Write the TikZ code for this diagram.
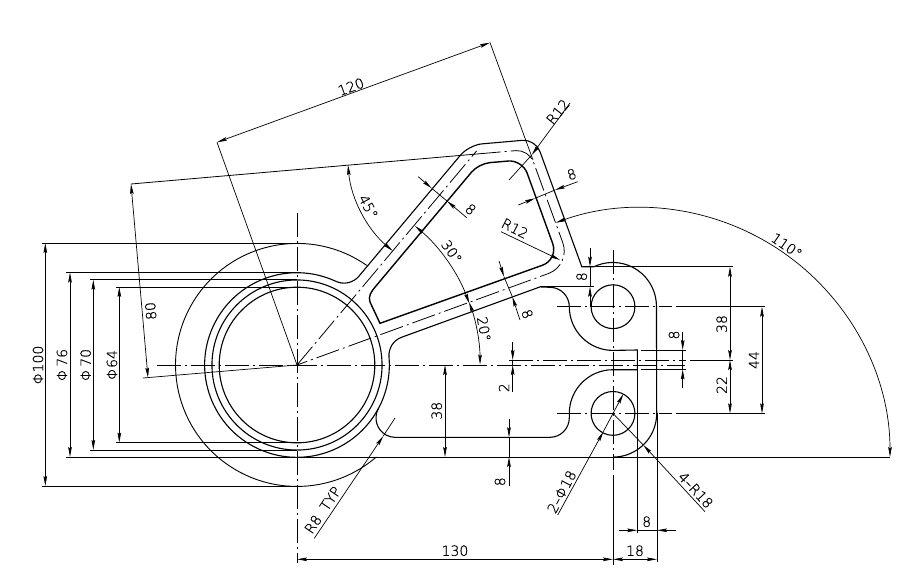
\documentclass[tikz,border=0pt]{standalone}
\usepackage{fontspec}
\usetikzlibrary{arrows.meta}
\newfontfamily\cadfont[FakeBold=0.6]{DejaVu Sans ExtraLight}
\tikzset{
    outline/.style = {line width=1.1pt},
    pocket/.style = {line width=1.4pt},
    dimline/.style = {line width=0.7pt, >={Stealth[length=10pt,width=3.6pt,inset=1.5pt]}},
    axisline/.style = {line width=0.8pt, dash pattern=on 24pt off 4pt on 2pt off 4pt},
    dimtext/.style = {font=\cadfont\fontsize{14}{14}\selectfont, inner sep=0pt}
}

\begin{document}
\begin{tikzpicture}[x=1pt, y=-1pt]
    \useasboundingbox (0,0) rectangle (916,587);
    \coordinate (O) at (297,365);
    \coordinate (upperhole) at (613,306.7);
    \coordinate (lowerhole) at (613,413.4);
    \coordinate (armA) at (473.8,154.3);
    \coordinate (armB) at (528.9,149.5);
    \coordinate (armC) at (571,265.3);

    % rings and holes
    \draw[line width=0.9pt] (366.7,265.4) arc (-55:-310.8:121.5);
    \draw[outline] (O) circle (85.05);
    \draw[outline] (O) circle (77.8);
    \draw[outline] (upperhole) circle (21.9);
    \draw[outline] (lowerhole) circle (21.9);

    % outer contour
    \draw[outline] (389,357.1) arc (-4.9:28.3:92.3) arc (208.3:90:19.44) -- (549.9,437.3)
        arc (90:0:19.4) -- (569.3,413.4) arc (180:270:43.7) -- (637.3,369.7) -- (637.3,350)
        -- (613,350.4) arc (90:180:43.7) arc (0:-90:19.4) -- (540,286.9) -- (401.7,337.2)
        arc (250:175.3:19.44);
    \draw[outline] (335.8,281.3) arc (-65.1:-331.7:92.3);
    \draw[outline] (335.8,281.3) arc (115:40:19.44) [rounded corners=13pt] -- (469,145)
        -- (535.5,139.2) [sharp corners] -- (581.8,266.7) -- (594,266.7)
        arc (244.6:360:43.7) -- (656.7,413.4) arc (0:90:43.7);

    % pocket
    \draw[pocket] (380,323.3) -- (370,302) .. controls (368,296) and (371,292) .. (375.8,286.2)
        [rounded corners=11pt] -- (478.7,163.6) [rounded corners=14pt] -- (522.3,159.8)
        [rounded corners=17pt] -- (558.5,259.5) [sharp corners] -- cycle;

    % centre lines
    \draw[axisline] (157,365) -- (685,365);
    \draw[axisline] (297,213) -- (297,563);
    \draw[axisline] (613,250) -- (613,470);
    \draw[axisline] (509,360) -- (686,360);
    \draw[axisline] (557,306.7) -- (672,306.7);
    \draw[axisline] (557,413.4) -- (672,413.4);
    \draw[axisline] (O) -- (476.7,150.8);
    \draw[axisline, rounded corners=13pt] (476.7,154) -- (armB) [rounded corners=24pt] -- (armC)
        [sharp corners] -- (O);
    \fill (upperhole) circle (1);

    % extension lines
    \draw[dimline] (42,243) -- (297,243);
    \draw[dimline] (42,486) -- (297,486);
    \draw[dimline] (66,272.5) -- (297,272.5);
    \draw[line width=1pt] (66,457) -- (890,457);
    \draw[dimline] (90,279.7) -- (297,279.7);
    \draw[dimline] (90,449.9) -- (297,449.9);
    \draw[dimline] (116,286.9) -- (297,286.9);
    \draw[dimline] (116,442.6) -- (297,442.6);
    \draw[line width=0.8pt] (131,184) -- (476.7,154);
    \draw[dimline] (143,378) -- (O);
    \draw[dimline] (217,142.3) -- (O);
    \draw[dimline] (490,42.6) -- (533,160);
    \draw[dimline] (540,286.7) -- (594,286.7);
    \draw[dimline] (596,266.7) -- (733,266.7);
    \draw[dimline] (676,306.7) -- (765,306.7);
    \draw[dimline] (676,413.4) -- (765,413.4);
    \draw[dimline] (690,360) -- (733,360);
    \draw[dimline] (641,350) -- (686,350);
    \draw[dimline] (641,369.4) -- (686,369.4);
    \draw[dimline] (613,475) -- (613,565);
    \draw[dimline] (637.3,369.7) -- (637.3,533);
    \draw[dimline] (657,413.4) -- (657,562);

    % diameters
    \draw[dimline, <->] (45.3,243) -- (45.3,486);
    \draw[dimline, <->] (70,272.5) -- (70,457);
    \draw[dimline, <->] (93.3,279.7) -- (93.3,449.9);
    \draw[dimline, <->] (119.3,286.9) -- (119.3,442.6);
    \node[dimtext, rotate=90] (diaouter) at (38,365) {Φ100};
    \node[dimtext, rotate=90] (diarib) at (62,365) {Φ\,76};
    \node[dimtext, rotate=90] (diamid) at (85.7,365) {Φ\,70};
    \node[dimtext, rotate=90] (diabore) at (112,365) {Φ64};

    % arm dimensions
    \draw[dimline, <->] (131,184) -- (148,377.7);
    \draw[dimline, <->] (217,142.3) -- (490,42.6);
    \node[dimtext, rotate=95] (armheight) at (150.7,311) {80};
    \node[dimtext, rotate=20] (armlength) at (351,86.7) {120};
    \draw[dimline, <->] (348,165) arc (175:130:126.5);
    \draw[dimline, <->] (415,226) arc (-50:-20:183);
    \draw[dimline, <->] (469,302) arc (-20:0:183);
    \draw[dimline, <->] (890,457) arc (0:-110:249.2);
    \node[dimtext, rotate=-62] (angleA) at (368.3,206.7) {45°};
    \node[dimtext, rotate=-55] (angleB) at (451.7,251.7) {30°};
    \node[dimtext, rotate=-80] (angleC) at (484,329) {20°};
    \node[dimtext, rotate=-35] (angleD) at (786.7,245.7) {110°};

    % wall thickness
    \draw[dimline] (431.7,188.3) -- (447,201);
    \draw[dimline, ->] (418.3,176.7) -- (431.7,188.3);
    \draw[dimline, ->] (466.7,217.7) -- (447,201);
    \draw[dimline] (535,198.3) -- (555,190);
    \draw[dimline, ->] (518.3,205) -- (535,198.3);
    \draw[dimline, ->] (577.7,181.7) -- (555,190);
    \draw[dimline] (504,276.7) -- (512.3,296.7);
    \draw[dimline, ->] (499,261) -- (504,276.7);
    \draw[dimline, ->] (520,320) -- (512.3,296.7);
    \node[dimtext, rotate=-40] (wallA) at (470.7,209.3) {8};
    \node[dimtext, rotate=20] (wallB) at (571.7,174.3) {8};
    \node[dimtext, rotate=-70] (wallC) at (527.3,314) {8};

    % radii
    \draw[dimline, ->] (570,103) -- (531.7,155);
    \draw[dimline] (531.7,155) -- (509,180);
    \draw[dimline, ->] (501,231.7) -- (560,260);
    \node[dimtext, rotate=51] (radiusA) at (557.7,111.7) {R12};
    \node[dimtext, rotate=-27] (radiusB) at (515,228.3) {R12};
    \draw[dimline, ->] (314.3,538.3) -- (383.3,436);
    \draw[dimline] (383.3,436) -- (395,418);
    \node[dimtext, rotate=56] (radiusC) at (322.7,510) {R8\ \ TYP};
    \draw[dimline, ->] (557.7,515) -- (603.3,431.7);
    \draw[dimline, ->] (603.3,431.7) -- (623.3,394);
    \node[dimtext, rotate=62] (holes) at (561.7,491.7) {2–Φ18};
    \draw[dimline, ->] (705,511.7) -- (643.3,445);
    \draw[dimline] (643.3,445) -- (lowerhole);
    \node[dimtext, rotate=-47] (bosses) at (695.7,490) {4–R18};

    % right side
    \draw[dimline, ->] (590,248) -- (590,266.7);
    \draw[dimline, ->] (590,306.7) -- (590,286.7);
    \draw[dimline] (590,266.7) -- (590,286.7);
    \node[dimtext, rotate=90] (topgap) at (581.7,276.7) {8};
    \draw[dimline, <->] (730,266.7) -- (730,360);
    \draw[dimline, <->] (730,360) -- (730,413.4);
    \draw[dimline, <->] (762,306.7) -- (762,413.4);
    \node[dimtext, rotate=90] (upperspan) at (721.7,324) {38};
    \node[dimtext, rotate=90] (lowerspan) at (721.7,385) {22};
    \node[dimtext, rotate=90] (holespan) at (754,360) {44};
    \draw[dimline, ->] (682.7,331.7) -- (682.7,350);
    \draw[dimline, ->] (682.7,387.7) -- (682.7,369.4);
    \draw[dimline] (682.7,350) -- (682.7,369.4);
    \node[dimtext, rotate=90] (slot) at (674,335) {8};

    % lower side
    \draw[dimline, ->] (512.7,341.7) -- (512.7,360);
    \draw[dimline, ->] (512.7,391.7) -- (512.7,365);
    \draw[dimline] (512.7,360) -- (512.7,365);
    \node[dimtext, rotate=90] (offset) at (504,387.7) {2};
    \draw[dimline, <->] (445,365) -- (445,457);
    \node[dimtext, rotate=90] (lowerheight) at (436.7,410.7) {38};
    \draw[dimline, ->] (509,419) -- (509,437.3);
    \draw[dimline, ->] (509,486) -- (509,457);
    \draw[dimline] (509,437.3) -- (509,457);
    \node[dimtext, rotate=90] (floor) at (500,481.7) {8};
    \draw[dimline, <->] (297,559.3) -- (613,559.3);
    \draw[dimline, <->] (613,559.3) -- (657,559.3);
    \node[dimtext] (width) at (455,550.7) {130};
    \node[dimtext] (bosswidth) at (635,550.7) {18};
    \draw[dimline, ->] (619,530.3) -- (637.3,530.3);
    \draw[dimline, ->] (675.7,530.3) -- (657,530.3);
    \draw[dimline] (637.3,530.3) -- (657,530.3);
    \node[dimtext] (slotwidth) at (646.7,521.7) {8};
\end{tikzpicture}
\end{document}
